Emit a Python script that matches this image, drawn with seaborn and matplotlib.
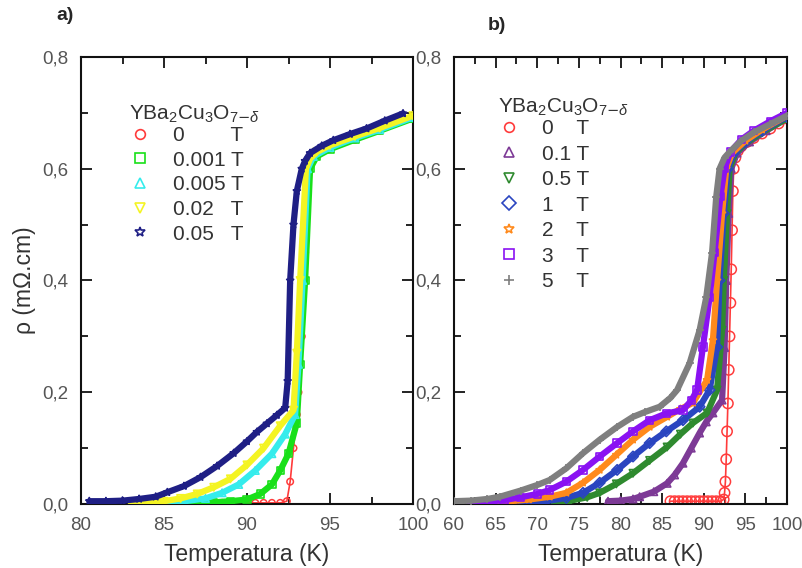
import numpy as np
import matplotlib as mpl
mpl.use('Agg')
import matplotlib.pyplot as plt
from matplotlib.lines import Line2D
from matplotlib.ticker import MultipleLocator, FuncFormatter
import seaborn as sns

##### datos (T en K, rho en mOhm.cm)
# panel a)
fields_a = ["0", "0.001", "0.005", "0.02", "0.05"]
T_a_0 = [86.5, 87.0, 87.5, 88.0, 88.5, 89.0, 89.5, 90.0, 90.5, 91.0, 91.5, 92.0, 92.4, 92.6, 92.8, 93.0, 93.1, 93.3, 93.5,
         93.7, 94.1, 95.0, 96.5, 98.0, 100.0]
r_a_0 = [0.002, 0.002, 0.002, 0.002, 0.002, 0.002, 0.002, 0.002, 0.002, 0.002, 0.002, 0.002, 0.005, 0.04, 0.10, 0.16,
         0.20, 0.30, 0.45, 0.60, 0.625, 0.636, 0.652, 0.668, 0.69]
T_a_1 = [86.5, 88.0, 89.0, 90.0, 90.8, 91.5, 92.0, 92.5, 93.0, 93.2, 93.5, 93.8, 94.2, 95.0, 96.5, 98.0, 100.0]
r_a_1 = [0.002, 0.003, 0.005, 0.008, 0.018, 0.035, 0.06, 0.09, 0.145, 0.25, 0.40, 0.60, 0.622, 0.635, 0.652, 0.668, 0.69]
T_a_2 = [84.0, 86.0, 87.5, 88.5, 89.5, 90.5, 91.5, 92.3, 92.9, 93.1, 93.35, 93.65, 94.0, 95.0, 96.5, 98.0, 100.0]
r_a_2 = [0.002, 0.004, 0.01, 0.02, 0.035, 0.06, 0.09, 0.125, 0.16, 0.25, 0.40, 0.60, 0.622, 0.638, 0.655, 0.67, 0.692]
T_a_3 = [83.0, 85.0, 86.0, 87.0, 88.0, 89.0, 90.0, 91.0, 92.0, 92.8, 93.0, 93.2, 93.55, 93.8, 94.2, 95.0, 96.5, 98.0, 100.0]
r_a_3 = [0.002, 0.005, 0.01, 0.018, 0.03, 0.045, 0.07, 0.10, 0.14, 0.168, 0.27, 0.40, 0.60, 0.618, 0.63, 0.642, 0.658, 0.673, 0.695]
T_a_4 = [80.5, 81.5, 82.5, 83.5, 84.5, 85.2, 86.2, 87.2, 88.2, 89.2, 90.0, 90.6, 91.2, 91.8, 92.3, 92.45,
         92.6, 92.8, 93.0, 93.3, 93.5, 93.8, 94.5, 95.2, 96.2, 97.2, 98.3, 99.4]
r_a_4 = [0.005, 0.005, 0.006, 0.009, 0.013, 0.021, 0.032, 0.048, 0.068, 0.091, 0.112, 0.129, 0.144, 0.159, 0.172, 0.22,
         0.40, 0.50, 0.56, 0.60, 0.614, 0.628, 0.641, 0.651, 0.662, 0.672, 0.686, 0.699]

# panel b)
fields_b = ["0", "0.1", "0.5", "1", "2", "3", "5"]
T_b_0 = [86.0, 86.5, 87.0, 87.5, 88.0, 88.5, 89.0, 89.5, 90.0, 90.5, 91.0, 91.5, 92.0, 92.4, 92.5, 92.6, 92.7, 92.8, 92.9,
         93.0, 93.1, 93.2, 93.3, 93.4, 93.5, 93.6, 93.8, 94.1, 94.5, 95.2, 96.0, 97.0, 98.0, 99.0, 100.0]
r_b_0 = [0.005, 0.005, 0.005, 0.005, 0.005, 0.005, 0.005, 0.005, 0.005, 0.005, 0.005, 0.005, 0.005, 0.008, 0.02, 0.04,
         0.08, 0.13, 0.18, 0.24, 0.30, 0.36, 0.42, 0.49, 0.56, 0.60, 0.62, 0.632, 0.64, 0.648, 0.655, 0.663, 0.672, 0.681, 0.69]
T_b_1 = [78.5, 80.0, 81.5, 82.3, 84.0, 85.6, 86.5, 87.5, 88.5, 89.5, 90.3, 91.1, 92.2, 92.5, 92.7, 93.0, 93.3, 94.0, 95.5, 97.5, 100.0]
r_b_1 = [0.005, 0.006, 0.009, 0.013, 0.022, 0.037, 0.052, 0.073, 0.10, 0.127, 0.147, 0.163, 0.186, 0.28, 0.40, 0.52, 0.60, 0.628, 0.648, 0.668, 0.69]
T_b_2 = [72.0, 74.0, 76.0, 77.5, 79.5, 81.5, 83.5, 85.6, 87.2, 88.7, 90.4, 91.6, 92.2, 92.4, 92.8, 93.1, 93.8, 95.0, 97.0, 100.0]
r_b_2 = [0.002, 0.006, 0.012, 0.02, 0.036, 0.055, 0.078, 0.102, 0.125, 0.145, 0.163, 0.204, 0.311, 0.40, 0.52, 0.60, 0.628, 0.645, 0.665, 0.69]
T_b_3 = [68.0, 71.0, 73.5, 75.5, 77.5, 79.6, 81.5, 83.5, 85.5, 87.5, 89.5, 90.7, 91.6, 91.9, 92.4, 92.9, 93.6, 95.0, 97.0, 100.0]
r_b_3 = [0.002, 0.005, 0.011, 0.02, 0.038, 0.061, 0.085, 0.109, 0.13, 0.15, 0.174, 0.204, 0.281, 0.40, 0.52, 0.60, 0.628, 0.648, 0.668, 0.693]
T_b_4 = [63.0, 66.0, 69.0, 71.5, 73.5, 75.5, 77.5, 79.5, 81.5, 83.5, 85.6, 87.2, 88.7, 90.4, 91.1, 91.6, 92.2, 92.7, 93.4, 95.0, 97.0, 100.0]
r_b_4 = [0.002, 0.004, 0.008, 0.013, 0.02, 0.038, 0.061, 0.088, 0.115, 0.138, 0.156, 0.17, 0.181, 0.222, 0.293, 0.40, 0.52, 0.60, 0.628, 0.65, 0.67, 0.695]
T_b_5 = [62.0, 64.0, 66.0, 68.0, 70.0, 71.5, 73.5, 75.5, 77.5, 79.6, 81.5, 83.5, 85.5, 87.5, 88.5, 89.2, 89.9, 90.7, 91.3,
         92.0, 92.5, 93.2, 94.5, 96.0, 98.0, 100.0]
r_b_5 = [0.002, 0.004, 0.007, 0.012, 0.018, 0.025, 0.04, 0.061, 0.085, 0.109, 0.13, 0.15, 0.162, 0.168, 0.185, 0.204, 0.281,
         0.37, 0.45, 0.55, 0.60, 0.63, 0.652, 0.668, 0.685, 0.70]
T_b_6 = [60.0, 62.0, 64.0, 65.5, 68.0, 70.0, 71.5, 73.5, 75.5, 77.5, 79.6, 81.5, 83.0, 84.7, 86.0, 86.8, 88.3, 89.5, 90.3,
         91.0, 91.5, 91.9, 92.5, 93.1, 94.5, 96.0, 98.0, 100.0]
r_b_6 = [0.005, 0.006, 0.009, 0.013, 0.024, 0.034, 0.043, 0.064, 0.091, 0.115, 0.138, 0.156, 0.165, 0.174, 0.19, 0.204,
         0.252, 0.311, 0.37, 0.45, 0.55, 0.60, 0.62, 0.63, 0.65, 0.665, 0.68, 0.695]

curves_a = [(T_a_0, r_a_0), (T_a_1, r_a_1), (T_a_2, r_a_2), (T_a_3, r_a_3), (T_a_4, r_a_4)]
curves_b = [(T_b_0, r_b_0), (T_b_1, r_b_1), (T_b_2, r_b_2), (T_b_3, r_b_3), (T_b_4, r_b_4), (T_b_5, r_b_5), (T_b_6, r_b_6)]

colors_a = ["#ff3b3b", "#19e019", "#35ecec", "#f4f423", "#1f1f85"]
markers_a = ["o", "s", "^", "v", "*"]
colors_b = ["#ff3b3b", "#7d3a96", "#2f8a2f", "#2a45c0", "#ff8a1c", "#8a12f2", "#7f7f7f"]
markers_b = ["o", "^", "v", "D", "*", "s", "+"]

##### estilo
sns.set_style("ticks")
plt.rcParams['font.family'] = ['Liberation Sans', 'DejaVu Sans']
plt.rcParams['mathtext.fontset'] = 'custom'
plt.rcParams['mathtext.rm'] = 'Liberation Sans'
plt.rcParams['mathtext.it'] = 'Liberation Sans:italic'

fig = plt.figure(figsize=(8.02, 5.68), dpi=100)
ax_a = fig.add_axes([81/802, 64/568, 332/802, 447/568])
ax_b = fig.add_axes([454/802, 64/568, 333/802, 447/568])

comma = FuncFormatter(lambda v, p: "{:.1f}".format(v).replace(".", ","))


def em(s):
    # ancho aproximado en Arial (em)
    return sum(0.278 if ch in ". " else 0.556 for ch in s)


def pad_labels(fields):
    w = max(em(f) for f in fields)
    out = []
    for f in fields:
        n = int(round((w - em(f)) / 0.278))
        out.append(f + " " * n + " T")
    return out


def draw(ax, curves, fields, colors, markers, xlim, leg_pos, lsp, red_big):
    for k, ((T, r), c, m) in enumerate(zip(curves, colors, markers)):
        z = 2 + k
        if k == 0:
            sns.lineplot(x=T, y=r, color=c, lw=1.2, ax=ax, sort=False, zorder=z)
            sns.scatterplot(x=T, y=r, marker=m, s=55 if red_big else 22, facecolors="none",
                            edgecolor=c, linewidth=1.1, ax=ax, zorder=z)
            continue
        sns.lineplot(x=T, y=r, color=c, lw=4.5, ax=ax, sort=False, zorder=z)
        if m == "+":
            sns.scatterplot(x=T, y=r, color=c, marker=m, s=30, linewidth=1.2, ax=ax, zorder=z)
        else:
            sns.scatterplot(x=T, y=r, marker=m, s=28, facecolors="none", edgecolor=c, linewidth=1.2, ax=ax, zorder=z)
    ax.set_xlim(*xlim)
    ax.set_ylim(0, 0.8)
    ax.xaxis.set_major_locator(MultipleLocator(5))
    ax.xaxis.set_minor_locator(MultipleLocator(2.5))
    ax.yaxis.set_major_locator(MultipleLocator(0.2))
    ax.yaxis.set_minor_locator(MultipleLocator(0.1))
    ax.yaxis.set_major_formatter(comma)
    ax.tick_params(which="both", direction="in", top=True, right=True, colors="#111111",
                   labelcolor="#555555", labelsize=13.5, width=1.3)
    ax.tick_params(which="major", length=8, pad=9)
    ax.tick_params(which="minor", length=5)
    for s in ax.spines.values():
        s.set_linewidth(1.5)
        s.set_color("#111111")
    ax.set_xlabel("Temperatura (K)", fontsize=16.5, color="#333333", labelpad=7)
    ax.set_ylabel("")
    handles = []
    for c, m in zip(colors, markers):
        if m == "+":
            h = Line2D([], [], ls="", marker=m, color=c, markersize=7, mew=1.2)
        else:
            h = Line2D([], [], ls="", marker=m, markerfacecolor="none", markeredgecolor=c, markersize=7, mew=1.2)
        handles.append(h)
    leg = ax.legend(handles, pad_labels(fields), title=r"YBa$_2$Cu$_3$O$_{7\mathsf{-}\delta}$", loc="upper left",
                    bbox_to_anchor=leg_pos, frameon=False, fontsize=15, title_fontsize=15,
                    handletextpad=1.1, labelspacing=lsp, borderaxespad=0, handlelength=1.0)
    leg._legend_box.align = "left"
    leg._legend_box.sep = 1
    for t in leg.get_texts():
        t.set_color("#333333")
    leg.get_title().set_color("#333333")


draw(ax_a, curves_a, fields_a, colors_a, markers_a, (80, 100), (0.12, 0.915), 0.27, False)
draw(ax_b, curves_b, fields_b, colors_b, markers_b, (60, 100), (0.108, 0.93), 0.31, True)

fig.text(25/802, 1 - 280/568, "ρ (mΩ.cm)", rotation=90, fontsize=16.5, color="#333333", ha="center", va="center")
fig.text(65/802, 1 - 15/568, "a)", fontsize=14, fontweight="bold", ha="center", va="center")
fig.text(497/802, 1 - 25/568, "b)", fontsize=14, fontweight="bold", ha="center", va="center")

plt.savefig("out.png", dpi=100)
